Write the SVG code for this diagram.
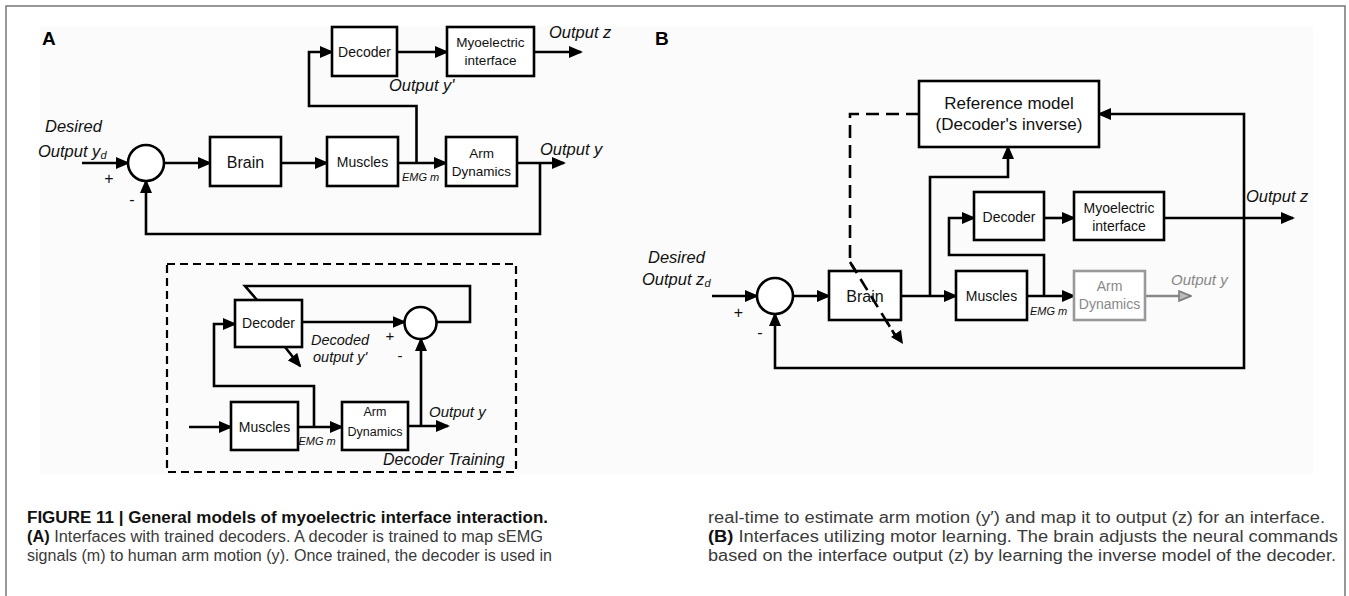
<svg xmlns="http://www.w3.org/2000/svg" width="1349" height="596" viewBox="0 0 1349 596">
<defs>
<marker id="ah" markerUnits="userSpaceOnUse" markerWidth="14" markerHeight="12" refX="12" refY="6" orient="auto"><path d="M0,0 L14,6 L0,12 z" fill="#000"/></marker>
<marker id="ahg" markerUnits="userSpaceOnUse" markerWidth="14" markerHeight="12" refX="12" refY="6" orient="auto"><path d="M1,1 L13,6 L1,11 z" fill="#bbb" stroke="#777" stroke-width="1.5"/></marker>
<style>
.box{fill:#fff;stroke:#000;stroke-width:2.6}
.gbox{fill:#fff;stroke:#999;stroke-width:2.6}
.ln{fill:none;stroke:#000;stroke-width:2.6}
.ar{fill:none;stroke:#000;stroke-width:2.6;marker-end:url(#ah)}
.dash{fill:none;stroke:#000;stroke-width:2.2;stroke-dasharray:8 5}
.dashb{fill:none;stroke:#000;stroke-width:2.6;stroke-dasharray:13 7}
.t{font-family:"Liberation Sans",Arial,sans-serif;fill:#111;text-anchor:middle}
.i{font-family:"Liberation Sans",Arial,sans-serif;font-style:italic;fill:#111}
.lbl{font-family:"Liberation Sans",Arial,sans-serif;font-weight:bold;font-size:19px;fill:#000}
.cap{font-family:"Liberation Sans",Arial,sans-serif;font-size:16px;fill:#3a3a3a}
.capb{font-family:"Liberation Sans",Arial,sans-serif;font-size:16px;font-weight:bold;fill:#111}
</style>
</defs>
<rect x="0" y="0" width="1349" height="596" fill="#fff"/>
<rect x="40" y="26" width="1273" height="449" fill="#fbfbfb"/>
<path d="M6,596 V6 H1345 V596" fill="none" stroke="#777" stroke-width="1.5"/>

<text class="lbl" x="42" y="45">A</text>
<text class="lbl" x="655" y="45">B</text>

<g id="connectors">
<path class="ar" d="M82,163 H128"/>
<path class="ar" d="M164,163 H210"/>
<path class="ar" d="M281,163 H327"/>
<path class="ar" d="M398,163 H446"/>
<path class="ar" d="M517,163 H564"/>
<path class="ar" d="M540,163 V234 H146 V181"/>
<path class="ar" d="M416.5,163 V106 H309 V52 H332"/>
<path class="ar" d="M397,52 H447"/>
<path class="ar" d="M534,52 H581"/>
<path class="dash" d="M167,264 H516 V472 H167 Z"/>
<path class="ar" d="M302,322 H404.5"/>
<path class="ln" d="M436.5,322 H470 V286 H245 L257,300"/>
<path class="ar" d="M285,347 L300,366"/>
<path class="ar" d="M189,427 H231"/>
<path class="ar" d="M298,427 H342"/>
<path class="ar" d="M314,427 V386 H214 V324 H235"/>
<path class="ar" d="M408,426 H448"/>
<path class="ar" d="M421,426 V339"/>
<path class="ar" d="M712,296 H757"/>
<path class="ar" d="M793,296 H829"/>
<path class="ar" d="M901,296 H956"/>
<path class="ar" d="M1027,296 H1074"/>
<path class="ar" d="M930,296 V177 H1008 V147"/>
<path class="ar" d="M1044,296 V255 H949 V218 H974"/>
<path class="ar" d="M1044,218 H1074"/>
<path class="ar" d="M1164,218 H1293"/>
<path class="ar" d="M1244,218 V114 H1099"/>
<path class="ar" d="M1244,218 V368 H775 V314"/>
<path d="M1145,296 H1190" fill="none" stroke="#888" stroke-width="2.6" marker-end="url(#ahg)"/>
<path class="dashb" d="M919,114 H850 V262 L895,335"/>
<path d="M891,337 L903,344 L901,330 z" fill="#000"/>
</g>

<g id="sumA"><circle cx="146" cy="163" r="18" fill="#fff" stroke="#000" stroke-width="2.6"/></g>
<g id="brainA"><rect class="box" x="210" y="137" width="71" height="49"/><text class="t" x="245.5" y="168" font-size="16">Brain</text></g>
<g id="musclesA"><rect class="box" x="327" y="137" width="71" height="49"/><text class="t" x="362.5" y="167" font-size="14">Muscles</text></g>
<g id="armA"><rect class="box" x="446" y="137" width="71" height="49"/><text class="t" x="481.5" y="158" font-size="13.5">Arm</text><text class="t" x="481.5" y="176" font-size="13.5">Dynamics</text></g>
<g id="decoderA"><rect class="box" x="332" y="27" width="65" height="49"/><text class="t" x="364.5" y="57" font-size="14">Decoder</text></g>
<g id="myoA"><rect class="box" x="447" y="27" width="87" height="49"/><text class="t" x="490.5" y="47" font-size="13.5">Myoelectric</text><text class="t" x="490.5" y="65" font-size="13.5">interface</text></g>

<g id="labelsA">
<text class="i" x="45" y="132" font-size="16.5">Desired</text>
<text class="i" x="38" y="157" font-size="16.5">Output y<tspan font-size="11" dy="2">d</tspan></text>
<text class="t" x="109" y="184" font-size="16">+</text>
<text class="t" x="132" y="205" font-size="16">-</text>
<text class="i" x="402" y="181" font-size="11">EMG m</text>
<text class="i" x="540" y="155" font-size="16.5">Output y</text>
<text class="i" x="389" y="91" font-size="16.5">Output y'</text>
<text class="i" x="549" y="38" font-size="16.5">Output z</text>
</g>

<g id="decoderTrain"><rect class="box" x="235" y="300" width="67" height="47"/><text class="t" x="268.5" y="328" font-size="14">Decoder</text></g>
<g id="sumTrain"><circle cx="420.5" cy="323" r="16" fill="#fff" stroke="#000" stroke-width="2.6"/></g>
<g id="musclesTrain"><rect class="box" x="231" y="402" width="67" height="48"/><text class="t" x="264.5" y="432" font-size="14">Muscles</text></g>
<g id="armTrain"><rect class="box" x="342" y="402" width="66" height="48"/><text class="t" x="375" y="416" font-size="12.5">Arm</text><text class="t" x="375" y="436" font-size="12.5">Dynamics</text></g>
<g id="labelsTrain">
<text class="i" x="311" y="345" font-size="14.5">Decoded</text>
<text class="i" x="313" y="362" font-size="14.5">output y'</text>
<text class="t" x="390" y="341" font-size="15">+</text>
<text class="t" x="400" y="361" font-size="15">-</text>
<text class="i" x="298.5" y="445" font-size="11">EMG m</text>
<text class="i" x="429" y="417" font-size="15">Output y</text>
<text class="i" x="383" y="465" font-size="16">Decoder Training</text>
</g>

<g id="refModel"><rect class="box" x="919" y="81" width="180" height="66"/><text class="t" x="1009" y="109" font-size="17">Reference model</text><text class="t" x="1009" y="130" font-size="17">(Decoder's inverse)</text></g>
<g id="sumB"><circle cx="775" cy="296" r="18" fill="#fff" stroke="#000" stroke-width="2.6"/></g>
<g id="brainB"><rect class="box" x="829" y="271" width="72" height="49"/><text class="t" x="865" y="302" font-size="16">Brain</text></g>
<g id="musclesB"><rect class="box" x="956" y="271" width="71" height="49"/><text class="t" x="991.5" y="301" font-size="14">Muscles</text></g>
<g id="decoderB"><rect class="box" x="974" y="192" width="70" height="48"/><text class="t" x="1009" y="222" font-size="14">Decoder</text></g>
<g id="myoB"><rect class="box" x="1074" y="192" width="90" height="48"/><text class="t" x="1119" y="213" font-size="14">Myoelectric</text><text class="t" x="1119" y="231" font-size="14">interface</text></g>
<g id="armB"><rect class="gbox" x="1074" y="271" width="71" height="49"/><text class="t" x="1109.5" y="291" font-size="14" style="fill:#888">Arm</text><text class="t" x="1109.5" y="309" font-size="14" style="fill:#888">Dynamics</text></g>
<g id="labelsB">
<text class="i" x="648" y="263" font-size="16.5">Desired</text>
<text class="i" x="642" y="285" font-size="16.5">Output z<tspan font-size="11" dy="2">d</tspan></text>
<text class="t" x="738.5" y="318" font-size="16">+</text>
<text class="t" x="760" y="338" font-size="16">-</text>
<text class="i" x="1030" y="315" font-size="11">EMG m</text>
<text class="i" x="1246" y="202" font-size="16.5">Output z</text>
<text class="i" x="1171" y="285" font-size="15" style="fill:#888">Output y</text>
</g>
<path class="dashb" d="M850,262 L895,335"/>

<g id="caption">
<text class="capb" x="27" y="523" textLength="521" lengthAdjust="spacingAndGlyphs">FIGURE 11 | General models of myoelectric interface interaction.</text>
<text class="cap" x="27" y="542" textLength="516" lengthAdjust="spacingAndGlyphs"><tspan font-weight="bold" fill="#111">(A)</tspan> Interfaces with trained decoders. A decoder is trained to map sEMG</text>
<text class="cap" x="27" y="561" textLength="525" lengthAdjust="spacingAndGlyphs">signals (m) to human arm motion (y). Once trained, the decoder is used in</text>
<text class="cap" x="708" y="523" textLength="617" lengthAdjust="spacingAndGlyphs">real-time to estimate arm motion (y′) and map it to output (z) for an interface.</text>
<text class="cap" x="708" y="542" textLength="630" lengthAdjust="spacingAndGlyphs"><tspan font-weight="bold" fill="#111">(B)</tspan> Interfaces utilizing motor learning. The brain adjusts the neural commands</text>
<text class="cap" x="708" y="561" textLength="628" lengthAdjust="spacingAndGlyphs">based on the interface output (z) by learning the inverse model of the decoder.</text>
</g>
</svg>
